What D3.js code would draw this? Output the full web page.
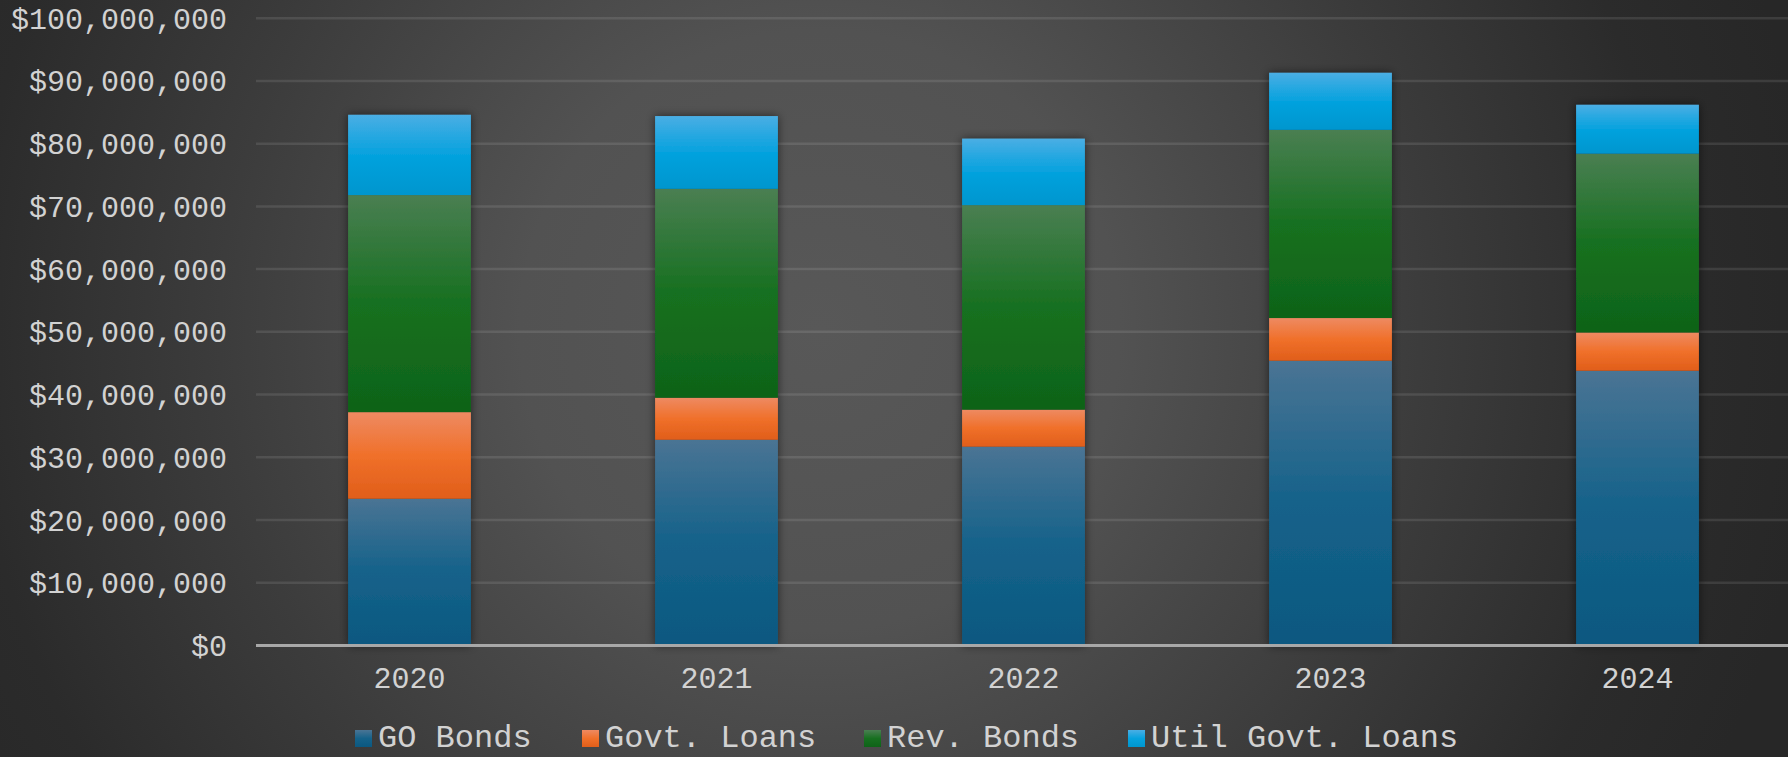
<!DOCTYPE html>
<html>
<head>
<meta charset="utf-8">
<script src="https://cdn.jsdelivr.net/npm/d3@7"></script>
<style>
  html, body { margin: 0; padding: 0; background: #2a2a2a; }
  svg { display: block; }
  text { font-family: "Liberation Mono", "Courier New", monospace; fill: #d2d2d2; }
</style>
</head>
<body>
<svg id="chart" width="1788" height="757"></svg>
<script>
// Debt issued by source, per fiscal year (USD)
const years = ["2020", "2021", "2022", "2023", "2024"];
const seriesNames = ["GO Bonds", "Govt. Loans", "Rev. Bonds", "Util Govt. Loans"];
const goBonds        = [23400000, 32800000, 31700000, 45400000, 43800000];
const govtLoans      = [13800000,  6700000,  5900000,  6800000,  6100000];
const revBonds       = [34600000, 33300000, 32600000, 30000000, 28500000];
const utilGovtLoans  = [12800000, 11600000, 10600000,  9100000,  7800000];
const yTicks = [0, 10000000, 20000000, 30000000, 40000000, 50000000,
                60000000, 70000000, 80000000, 90000000, 100000000];

// gradient stops for each series: [top, middle, bottom]
const palette = [
  ["#4a7494", "#15628a", "#0b5880"],
  ["#ee8a62", "#f0702a", "#e05e1a"],
  ["#4a7f52", "#177020", "#0e6318"],
  ["#4aaee4", "#06a2de", "#0096ce"]
];

const W = 1788, H = 757;
const svg = d3.select("#chart");
const defs = svg.append("defs");

// background: soft light centre fading to dark edges
const bg = defs.append("radialGradient").attr("id", "bg")
  .attr("gradientUnits", "userSpaceOnUse")
  .attr("cx", 820).attr("cy", 330).attr("r", 1000);
[[0, "#585858"], [0.3, "#525252"], [0.6, "#3c3c3c"], [0.85, "#2b2b2b"], [1, "#272727"]]
  .forEach(([o, c]) => bg.append("stop").attr("offset", o).attr("stop-color", c));
svg.append("rect").attr("width", W).attr("height", H).attr("fill", "url(#bg)");

palette.forEach((c, i) => {
  const g = defs.append("linearGradient").attr("id", "grad" + i)
    .attr("x1", 0).attr("y1", 0).attr("x2", 0).attr("y2", 1);
  g.append("stop").attr("offset", "0%").attr("stop-color", c[0]);
  g.append("stop").attr("offset", "50%").attr("stop-color", c[1]);
  g.append("stop").attr("offset", "100%").attr("stop-color", c[2]);
});

const shadow = defs.append("filter").attr("id", "shadow")
  .attr("x", "-30%").attr("y", "-10%").attr("width", "160%").attr("height", "120%");
shadow.append("feDropShadow").attr("dx", 0).attr("dy", 0)
  .attr("stdDeviation", 5).attr("flood-color", "#000").attr("flood-opacity", 0.55);

const plotLeft = 256, plotRight = 1791, y0 = 645.5, yTop = 18.2;

const x = d3.scaleBand().domain(years).range([plotLeft, plotRight])
  .paddingInner(0.6).paddingOuter(0.3);
const y = d3.scaleLinear().domain([0, 100000000]).range([y0, yTop]);

// gridlines
svg.append("g").selectAll("line").data(yTicks.filter(d => d > 0)).join("line")
  .attr("x1", plotLeft).attr("x2", W)
  .attr("y1", d => y(d)).attr("y2", d => y(d))
  .attr("stroke", "#ffffff").attr("stroke-opacity", 0.1).attr("stroke-width", 2.5);

// y-axis labels
const fmt = d3.format("$,.0f");
svg.append("g").selectAll("text").data(yTicks).join("text")
  .attr("x", 227).attr("y", d => y(d))
  .attr("dy", "0.35em")
  .attr("text-anchor", "end")
  .attr("font-size", 30)
  .text(d => fmt(d));

// stacked bars
const rows = years.map((yr, i) => ({
  year: yr,
  "GO Bonds": goBonds[i],
  "Govt. Loans": govtLoans[i],
  "Rev. Bonds": revBonds[i],
  "Util Govt. Loans": utilGovtLoans[i]
}));
const stack = d3.stack().keys(seriesNames)(rows);

const barsG = svg.append("g").attr("filter", "url(#shadow)");
stack.forEach((layer, si) => {
  barsG.append("g").selectAll("rect").data(layer).join("rect")
    .attr("x", d => x(d.data.year))
    .attr("width", x.bandwidth())
    .attr("y", d => y(d[1]))
    .attr("height", d => y(d[0]) - y(d[1]))
    .attr("fill", `url(#grad${si})`);
});

// baseline
svg.append("line").attr("x1", plotLeft).attr("x2", W)
  .attr("y1", y0).attr("y2", y0)
  .attr("stroke", "#a8a8a8").attr("stroke-width", 3);

// x-axis labels
svg.append("g").selectAll("text").data(years).join("text")
  .attr("x", d => x(d) + x.bandwidth() / 2)
  .attr("y", 688)
  .attr("text-anchor", "middle")
  .attr("font-size", 30)
  .text(d => d);

// legend
const legendX = [355, 582, 864, 1128];
const legend = svg.append("g").selectAll("g").data(seriesNames).join("g")
  .attr("transform", (d, i) => `translate(${legendX[i]},0)`);
legend.append("rect").attr("x", 0).attr("y", 730).attr("width", 17).attr("height", 17)
  .attr("fill", (d, i) => `url(#grad${i})`);
legend.append("text").attr("x", 23).attr("y", 747)
  .attr("font-size", 32)
  .text(d => d);
</script>
</body>
</html>
